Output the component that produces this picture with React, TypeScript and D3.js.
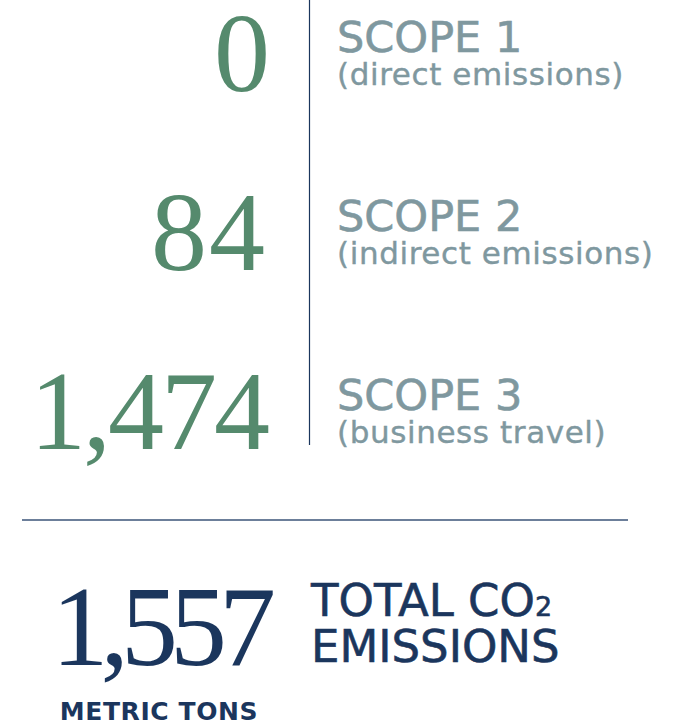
import React from "react";
import * as d3 from "d3";

const scopeValues = [0, 84, 1474];
const scopeTitles = ["SCOPE 1", "SCOPE 2", "SCOPE 3"];
const scopeDescriptions = ["(direct emissions)", "(indirect emissions)", "(business travel)"];
const totalValue = 1557;
const totalLines = ["TOTAL CO", "EMISSIONS"];
const unitLabel = "METRIC TONS";

const W = 690;
const H = 725;
const GREEN = "#558a6d";
const GRAY = "#7f989f";
const NAVY = "#1b365d";

export default function App() {
  const y = d3.scaleLinear().domain([0, scopeValues.length - 1]).range([91, 449]);
  const fmt = d3.format(",");
  const serif = "'Liberation Serif', 'Times New Roman', serif";
  const sans = "'DejaVu Sans', sans-serif";
  return (
    <svg
      width={W}
      height={H}
      viewBox={`0 0 ${W} ${H}`}
      style={{ position: "absolute", left: 0, top: 0, background: "#fff" }}
    >
      <line x1={309.5} x2={309.5} y1={0} y2={445} stroke={NAVY} strokeWidth={1.2} />
      {scopeValues.map((v, i) => (
        <g key={i}>
          <text
            x={267}
            y={y(i)}
            textAnchor="end"
            fontFamily={serif}
            fontSize={112}
            fill={GREEN}
            letterSpacing={i === 1 ? 2 : -3}
          >
            {fmt(v)}
          </text>
          <text x={337} y={y(i) - 39} fontFamily={sans} fontSize={43} fill={GRAY} stroke={GRAY} strokeWidth={0.6}>
            {scopeTitles[i]}
          </text>
          <text x={337} y={y(i) - 6} fontFamily={sans} fontSize={31} fill={GRAY} stroke={GRAY} strokeWidth={0.4} letterSpacing={0.6}>
            {scopeDescriptions[i]}
          </text>
        </g>
      ))}
      <line x1={22} x2={628} y1={520} y2={520} stroke="#3b5578" strokeWidth={1.5} />
      <text
        x={268}
        y={665}
        textAnchor="end"
        fontFamily={serif}
        fontSize={114}
        fill={NAVY}
        letterSpacing={-8}
      >
        {fmt(totalValue)}
      </text>
      <text x={311} y={616} fontFamily={sans} fontSize={45} fill={NAVY} stroke={NAVY} strokeWidth={0.6}>
        {totalLines[0]}
        <tspan fontSize={27}>2</tspan>
      </text>
      <text x={311} y={662} fontFamily={sans} fontSize={45} fill={NAVY} stroke={NAVY} strokeWidth={0.6}>
        {totalLines[1]}
      </text>
      <text
        x={159}
        y={720}
        textAnchor="middle"
        fontFamily={sans}
        fontWeight="bold"
        fontSize={25}
        fill={NAVY}
        letterSpacing={0.6}
      >
        {unitLabel}
      </text>
    </svg>
  );
}
